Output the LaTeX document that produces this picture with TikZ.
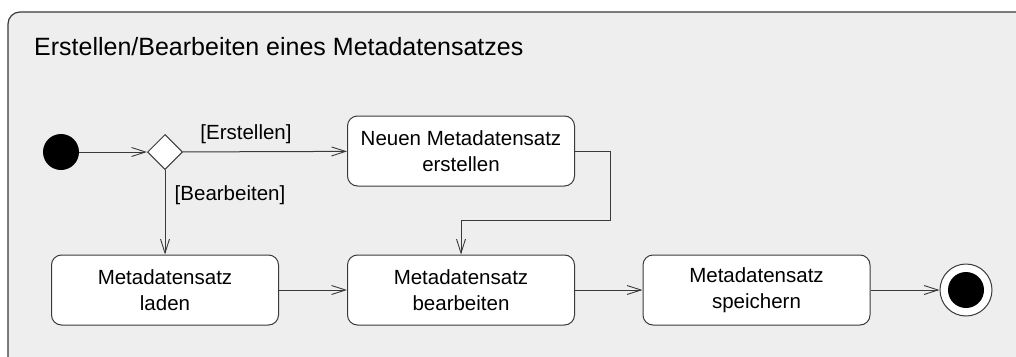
\documentclass[tikz,border=0pt]{standalone}
\usepackage{fontspec}
\setmainfont{Liberation Sans}
\usetikzlibrary{arrows.meta,shapes.geometric}
\definecolor{framefill}{HTML}{EEEEEE}
\definecolor{edgecol}{HTML}{3A3A3A}
\tikzset{
  frame/.style={draw=edgecol, line width=1.2pt, fill=framefill, rounded corners=12pt},
  action/.style={draw=edgecol, line width=1pt, fill=white, rounded corners=10pt,
    minimum width=227pt, minimum height=70pt, align=center, inner sep=0pt,
    font=\fontsize{20.5}{26}\selectfont},
  initial/.style={circle, fill=black, minimum size=36pt, inner sep=0pt},
  decision/.style={diamond, draw=edgecol, line width=1pt, fill=white,
    minimum width=35pt, minimum height=35pt, inner sep=0pt},
  finalouter/.style={circle, draw=edgecol, line width=1pt, fill=white, minimum size=52pt, inner sep=0pt},
  finalinner/.style={circle, fill=black, minimum size=36pt, inner sep=0pt},
  flow/.style={draw=edgecol, line width=1pt,
    -{Straight Barb[length=14pt,width=9pt,line width=0.9pt]}},
  guard/.style={font=\fontsize{20.5}{24}\selectfont, inner sep=0pt},
}
\begin{document}
\begin{tikzpicture}[x=1pt,y=-1pt]
\useasboundingbox (0,0) rectangle (1016,356);
% activity frame, running off the right and bottom edges
\begin{scope}
  \clip (0,0) rectangle (1016,356);
  \path[frame] (8,12) rectangle (1040,380);
\end{scope}
\node[anchor=base west, font=\fontsize{25}{29}\selectfont, inner sep=0pt] (title) at (34,55)
  {Erstellen/Bearbeiten eines Metadatensatzes};

% nodes
\node[initial] (start) at (61,152) {};
\node[decision] (dec) at (165,152) {};
\node[action] (neu) at (461,151) {Neuen Metadatensatz\\erstellen};
\node[action] (laden) at (165,290) {Metadatensatz\\laden};
\node[action] (bearb) at (461,290) {Metadatensatz\\bearbeiten};
\node[action] (speich) at (756.5,290) {Metadatensatz\\speichern};
\node[finalouter] (endo) at (966,290) {};
\node[finalinner] (endi) at (966,290) {};

\coordinate (c1) at (610,151);
\coordinate (c2) at (610,220);
\coordinate (c3) at (461,220);

% control flows
\draw[flow] (start) -- (dec);
\draw[flow] (dec) -- (neu);
\draw[flow] (dec) -- (laden);
\draw[flow] (neu.east) -- (c1) -- (c2) -- (c3) -- (bearb.north);
\draw[flow] (laden) -- (bearb);
\draw[flow] (bearb) -- (speich);
\draw[flow] (speich) -- (endo);

% guards
\node[guard] (gE) at (246,134) {[Erstellen]};
\node[guard] (gB) at (230,195) {[Bearbeiten]};
\end{tikzpicture}
\end{document}
